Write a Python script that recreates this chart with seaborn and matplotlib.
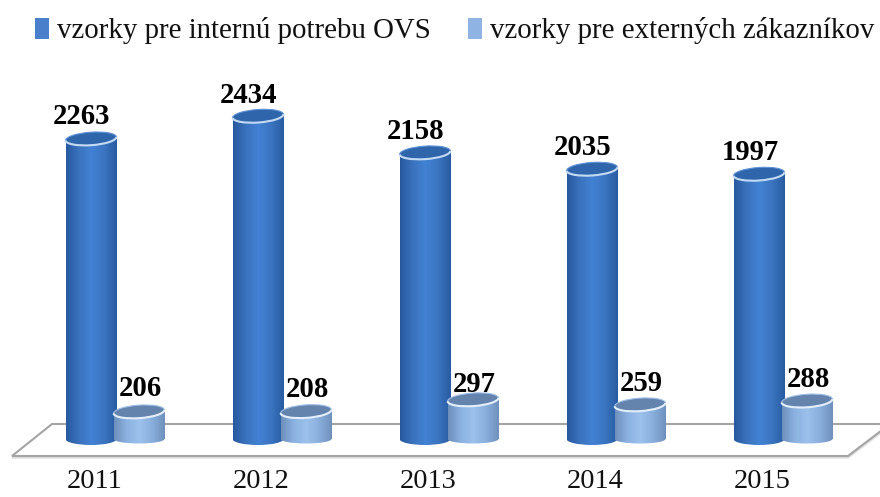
import numpy as np
import pandas as pd
import matplotlib
matplotlib.use('Agg')
import matplotlib.pyplot as plt
from matplotlib.patches import Arc, Ellipse, Polygon, Rectangle
from matplotlib.colors import LinearSegmentedColormap
from matplotlib.transforms import IdentityTransform
import seaborn as sns

years = ['2011', '2012', '2013', '2014', '2015']
interne = [2263, 2434, 2158, 2035, 1997]
externe = [206, 208, 297, 259, 288]
label_interne = 'vzorky pre internú potrebu OVS'
label_externe = 'vzorky pre externých zákazníkov'

sns.set_theme(style='white')
plt.rcParams['font.family'] = ['Liberation Serif', 'DejaVu Serif']

# pixel layout of the picture
W, H = 880, 497
axes_bottom = 465
base_px = 439
px_per_unit = 0.1327
first_cat_px = 115
cat_step = 167

fig = plt.figure(figsize=(W / 100, H / 100), dpi=100)
ax = fig.add_axes([0, (H - axes_bottom) / H, 1, axes_bottom / H])

df = pd.DataFrame({'rok': years * 2,
                   'pocet': interne + externe,
                   'typ': [label_interne] * 5 + [label_externe] * 5})
sns.barplot(data=df, x='rok', y='pocet', hue='typ', ax=ax, width=0.575, gap=-0.06,
            palette=['#4a7fcb', '#8fb4e3'], linewidth=0, saturation=1)

xlim = (-first_cat_px / cat_step, (W - first_cat_px) / cat_step)
ylim = ((base_px - axes_bottom) / px_per_unit, base_px / px_per_unit)
ax.set_xlim(xlim)
ax.set_ylim(ylim)


def px_x(px):
    return (px - first_cat_px) / cat_step


def px_y(px):
    return (base_px - px) / px_per_unit


# floor of the 3d chart
floor = [(12, 456), (848, 456), (890, 424), (52, 424)]
ax.add_patch(Polygon([(px_x(a), px_y(b + 1.5)) for a, b in floor], closed=True, fill=False,
                     edgecolor='#e0e0e0', lw=1.8, zorder=1))
ax.add_patch(Polygon([(px_x(a), px_y(b)) for a, b in floor], closed=True, facecolor='white',
                     edgecolor='#a4a4a4', lw=1.5, zorder=1.1))

blue_cmap = LinearSegmentedColormap.from_list('b', ['#27599f', '#3a72bd', '#4282d4', '#3b74c0', '#285ca2'])
light_cmap = LinearSegmentedColormap.from_list('l', ['#6d8fbc', '#8cb2e2', '#9cc1ec', '#8aafdd', '#6f90bc'])
grad = np.linspace(0, 1, 128).reshape(1, -1)
top_h_px = 13
foot_h_px = [12, 9]

bars = [p for p in ax.patches if isinstance(p, Rectangle) and p.get_height() > 0]
for i, bar in enumerate(bars):
    x0, w, top = bar.get_x(), bar.get_width(), bar.get_height()
    xc = x0 + w / 2
    blue = i < 5
    cmap = blue_cmap if blue else light_cmap
    z = 3 if blue else 4
    foot_h = (foot_h_px[0] if blue else foot_h_px[1]) / px_per_unit
    bar.set_visible(False)
    # body and rounded bottom share the horizontal shading
    body = Rectangle((x0, 0), w, top, fc='none', ec='none', zorder=z)
    foot = Ellipse((xc, 0), w, foot_h, fc='none', ec='none', zorder=z)
    ax.add_patch(body)
    ax.add_patch(foot)
    for clip in (body, foot):
        im = ax.imshow(grad, extent=(x0, x0 + w, -foot_h, top), aspect='auto', cmap=cmap, zorder=z)
        im.set_clip_path(clip)
    # top of the cylinder is slightly tilted, drawn in display pixels
    cx, cy = ax.transData.transform((xc, top))
    w_px = w * cat_step
    ax.add_patch(Ellipse((cx, cy), w_px, top_h_px, angle=4, transform=IdentityTransform(),
                         fc='#2f66ab' if blue else '#6484ae',
                         ec='#5f92d6' if blue else '#9dbde4', lw=0.8, zorder=z + 0.1))
    ax.add_patch(Arc((cx, cy), w_px, top_h_px, angle=4, theta1=180, theta2=360,
                     transform=IdentityTransform(),
                     ec='#c3daf5' if blue else '#e2eefa', lw=1.5, zorder=z + 0.2))

ax.set_xlim(xlim)
ax.set_ylim(ylim)

# value labels, hand placed like in the original
label_dy = [22, 21, 21, 21, 21, 23, 22, 15, 21, 21]
for i, bar in enumerate(bars):
    off = (-9, label_dy[i]) if i < 5 else (1.5, label_dy[i])
    ax.annotate(str(int(bar.get_height())), (bar.get_x() + bar.get_width() / 2, bar.get_height()),
                xytext=off, textcoords='offset pixels', ha='center', va='center',
                fontsize=20.7, fontweight='bold', color='black', zorder=6)

sns.despine(ax=ax, left=True, bottom=True, top=True, right=True)
ax.set_xlabel('')
ax.set_ylabel('')
ax.set_yticks([])
# year labels sit under the blue bars, not under the pair
ax.set_xticks(np.arange(5) - 20.5 / cat_step, years)
ax.tick_params(axis='x', length=0, pad=3, labelsize=20.5, labelcolor='#111111')

handles, labels = ax.get_legend_handles_labels()
ax.legend(handles, labels, ncol=2, frameon=False, fontsize=20.8, labelcolor='#111111',
          loc='center left', bbox_to_anchor=(35 / W, 1 - 31 / axes_bottom),
          handlelength=0.5, handleheight=0.7, handletextpad=0.25, columnspacing=1.3,
          borderpad=0, borderaxespad=0)

fig.savefig('out.png', dpi=100)
